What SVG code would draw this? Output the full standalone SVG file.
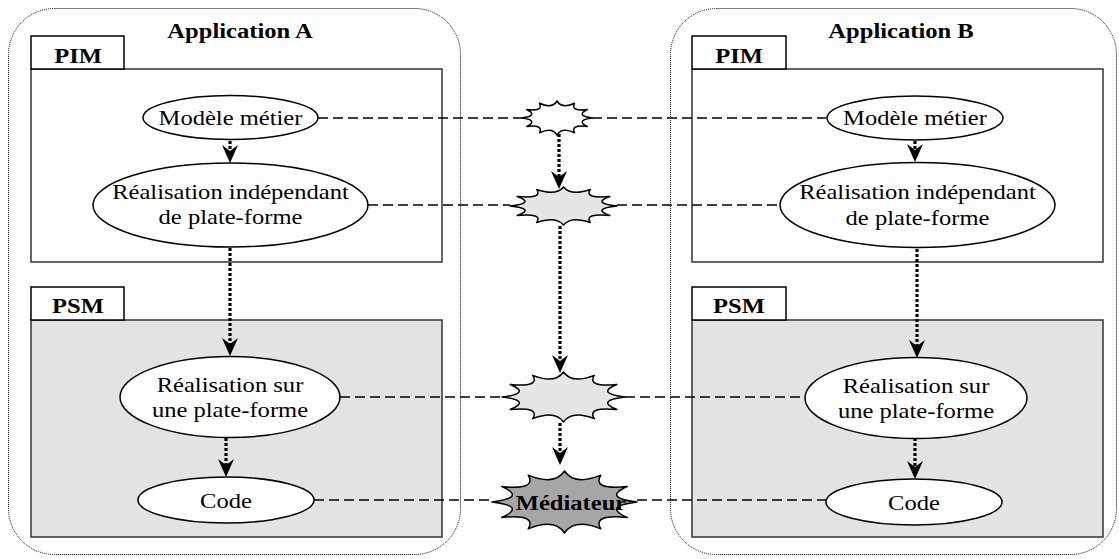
<svg xmlns="http://www.w3.org/2000/svg" xmlns:xlink="http://www.w3.org/1999/xlink" width="1119" height="559" viewBox="0 0 1119 559">
  <style>
    .app { fill: none; stroke: #000; stroke-width: 1; stroke-dasharray: 1 1; }
    .box { fill: #fff; stroke: #333; stroke-width: 1.5; }
    .psm { fill: #e3e3e3; stroke: #333; stroke-width: 1.5; }
    .tab { fill: #fff; stroke: #000; stroke-width: 1.5; }
    .node { fill: #fff; stroke: #000; stroke-width: 1.5; }
    .t { font-family: "Liberation Serif", "Times New Roman", serif; font-size: 21px; fill: #000; text-anchor: middle; }
    .b { font-weight: bold; }
    .map { fill: none; stroke: #000; stroke-width: 1.6; stroke-dasharray: 10 5; }
    .flow { fill: none; stroke: #000; stroke-width: 3.2; stroke-dasharray: 3 2; marker-end: url(#head); }
    .star { stroke: #000; stroke-width: 1.5; stroke-linejoin: round; }
  </style>
  <defs>
    <marker id="head" viewBox="0 0 18 16" refX="12" refY="8" markerWidth="18" markerHeight="16" markerUnits="userSpaceOnUse" orient="auto">
      <path d="M0,0 L18,8 L0,16 L6,8 Z" fill="#000"/>
    </marker>
    <!-- 12-point scalloped seal, unit radius -->
    <path id="seal" vector-effect="non-scaling-stroke" d="M1,0 Q0.516,0.138 0.866,0.5 Q0.378,0.378 0.5,0.866 Q0.138,0.516 0,1 Q-0.138,0.516 -0.5,0.866 Q-0.378,0.378 -0.866,0.5 Q-0.516,0.138 -1,0 Q-0.516,-0.138 -0.866,-0.5 Q-0.378,-0.378 -0.5,-0.866 Q-0.138,-0.516 0,-1 Q0.138,-0.516 0.5,-0.866 Q0.378,-0.378 0.866,-0.5 Q0.516,-0.138 1,0 Z"/>
  </defs>

  <rect width="1119" height="559" fill="#fff"/>

  <!-- Application A -->
  <g id="appA">
    <rect class="app" x="8.5" y="8.5" width="452" height="546" rx="46" ry="46"/>
    <text class="t b" transform="translate(240,38) scale(1.17,1)">Application A</text>
  </g>
  <g id="pimA">
    <rect class="box" x="31" y="69" width="411" height="193"/>
    <rect class="tab" x="31" y="36" width="93" height="33"/>
    <text class="t b" transform="translate(78,63) scale(1.17,1)">PIM</text>
  </g>
  <g id="psmA">
    <rect class="psm" x="31" y="320" width="411" height="217"/>
    <rect class="tab" x="31" y="287" width="93" height="33"/>
    <text class="t b" transform="translate(78,313) scale(1.17,1)">PSM</text>
  </g>

  <!-- Application B -->
  <g id="appB">
    <rect class="app" x="670.5" y="8.5" width="446" height="546" rx="46" ry="46"/>
    <text class="t b" transform="translate(901,38) scale(1.17,1)">Application B</text>
  </g>
  <g id="pimB">
    <rect class="box" x="692" y="69" width="411" height="193"/>
    <rect class="tab" x="692" y="36" width="94" height="33"/>
    <text class="t b" transform="translate(739,63) scale(1.17,1)">PIM</text>
  </g>
  <g id="psmB">
    <rect class="psm" x="692" y="320" width="411" height="217"/>
    <rect class="tab" x="692" y="287" width="94" height="33"/>
    <text class="t b" transform="translate(739,313) scale(1.17,1)">PSM</text>
  </g>

  <!-- connectors -->
  <g id="connectors">
    <!-- correspondences between the two applications -->
    <path class="map" d="M318,118 H522 M592,118 H826"/>
    <path class="map" d="M368,205 H510 M617,205 H780"/>
    <path class="map" d="M340,397 H502 M625,397 H805"/>
    <path class="map" d="M314,500 H492 M637,500 H826"/>
    <!-- refinement steps -->
    <path class="flow" d="M230,141 V157"/>
    <path class="flow" d="M230,248 V350"/>
    <path class="flow" d="M226,438 V471"/>
    <path class="flow" d="M915,141 V156"/>
    <path class="flow" d="M917,249 V352"/>
    <path class="flow" d="M915,438 V473"/>
    <path class="flow" d="M559,134 V183"/>
    <path class="flow" d="M560,226 V367"/>
    <path class="flow" d="M560,423 V459"/>
  </g>

  <!-- nodes of application A -->
  <g id="modeleA">
    <ellipse class="node" cx="230.5" cy="117.5" rx="87.5" ry="22"/>
    <text class="t" transform="translate(230.5,124.5) scale(1.17,1)">Modèle métier</text>
  </g>
  <g id="indepA">
    <ellipse class="node" cx="230.5" cy="205" rx="137.5" ry="42"/>
    <text class="t" transform="translate(230.5,199) scale(1.17,1)">Réalisation indépendant</text>
    <text class="t" transform="translate(230.5,224) scale(1.17,1)">de plate-forme</text>
  </g>
  <g id="surA">
    <ellipse class="node" cx="230" cy="397" rx="110" ry="40.5"/>
    <text class="t" transform="translate(230,392) scale(1.17,1)">Réalisation sur</text>
    <text class="t" transform="translate(230,417) scale(1.17,1)">une plate-forme</text>
  </g>
  <g id="codeA">
    <ellipse class="node" cx="226" cy="500" rx="88" ry="23"/>
    <text class="t" transform="translate(226,507.5) scale(1.17,1)">Code</text>
  </g>

  <!-- nodes of application B -->
  <g id="modeleB">
    <ellipse class="node" cx="915" cy="118" rx="88" ry="22"/>
    <text class="t" transform="translate(915,125) scale(1.17,1)">Modèle métier</text>
  </g>
  <g id="indepB">
    <ellipse class="node" cx="917.5" cy="205" rx="137.5" ry="42.5"/>
    <text class="t" transform="translate(917.5,199) scale(1.17,1)">Réalisation indépendant</text>
    <text class="t" transform="translate(917.5,225) scale(1.17,1)">de plate-forme</text>
  </g>
  <g id="surB">
    <ellipse class="node" cx="916" cy="398" rx="111" ry="40.5"/>
    <text class="t" transform="translate(916,393) scale(1.17,1)">Réalisation sur</text>
    <text class="t" transform="translate(916,418) scale(1.17,1)">une plate-forme</text>
  </g>
  <g id="codeB">
    <ellipse class="node" cx="914" cy="502" rx="88" ry="23"/>
    <text class="t" transform="translate(914,509.5) scale(1.17,1)">Code</text>
  </g>

  <!-- mapping seals between the applications -->
  <g id="sealModele">
    <use xlink:href="#seal" href="#seal" class="star" fill="#fff" transform="translate(557,118) scale(35,17)"/>
  </g>
  <g id="sealIndep">
    <use xlink:href="#seal" href="#seal" class="star" fill="#e6e6e6" transform="translate(563.5,206) scale(53.5,19)"/>
  </g>
  <g id="sealSur">
    <use xlink:href="#seal" href="#seal" class="star" fill="#e6e6e6" transform="translate(563.5,397) scale(61.5,25)"/>
  </g>
  <g id="mediateur">
    <use xlink:href="#seal" href="#seal" class="star" fill="#a6a6a6" transform="translate(564.5,502) scale(72.5,31)"/>
    <text class="t b" transform="translate(571,510) scale(1.17,1)">Médiateur</text>
  </g>
</svg>
